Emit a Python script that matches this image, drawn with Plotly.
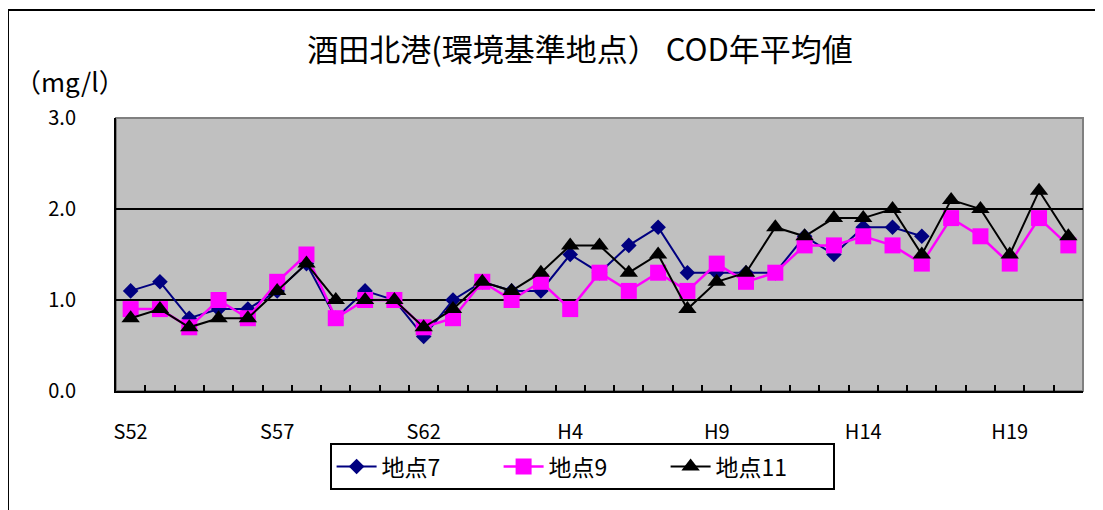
import plotly.graph_objects as go

# 年度 (昭和52年〜平成21年)
years = ["S52", "S53", "S54", "S55", "S56", "S57", "S58", "S59", "S60", "S61", "S62",
         "S63", "H1", "H2", "H3", "H4", "H5", "H6", "H7", "H8", "H9", "H10",
         "H11", "H12", "H13", "H14", "H15", "H16", "H17", "H18", "H19", "H20", "H21"]
shown_labels = ["S52", "S57", "S62", "H4", "H9", "H14", "H19"]

# COD 年平均値 (mg/l)
st7 = [1.1, 1.2, 0.8, 0.9, 0.9, 1.1, 1.4, 0.8, 1.1, 1.0, 0.6,
       1.0, 1.2, 1.1, 1.1, 1.5, 1.3, 1.6, 1.8, 1.3, 1.3, 1.3,
       1.3, 1.7, 1.5, 1.8, 1.8, 1.7]
st9 = [0.9, 0.9, 0.7, 1.0, 0.8, 1.2, 1.5, 0.8, 1.0, 1.0, 0.7,
       0.8, 1.2, 1.0, 1.2, 0.9, 1.3, 1.1, 1.3, 1.1, 1.4, 1.2,
       1.3, 1.6, 1.6, 1.7, 1.6, 1.4, 1.9, 1.7, 1.4, 1.9, 1.6]
st11 = [0.8, 0.9, 0.7, 0.8, 0.8, 1.1, 1.4, 1.0, 1.0, 1.0, 0.7,
        0.9, 1.2, 1.1, 1.3, 1.6, 1.6, 1.3, 1.5, 0.9, 1.2, 1.3,
        1.8, 1.7, 1.9, 1.9, 2.0, 1.5, 2.1, 2.0, 1.5, 2.2, 1.7]

FONT = "Noto Sans CJK JP"

fig = go.Figure()

fig.add_trace(go.Scatter(
    x=years[:len(st7)], y=st7, name="地点7", mode="lines+markers",
    line=dict(color="#000080", width=2),
    marker=dict(symbol="diamond", size=12, color="#000080")
))
fig.add_trace(go.Scatter(
    x=years, y=st9, name="地点9", mode="lines+markers",
    line=dict(color="#FF00FF", width=2.5),
    marker=dict(symbol="square", size=16, color="#FF00FF")
))
fig.add_trace(go.Scatter(
    x=years, y=st11, name="地点11", mode="lines+markers",
    line=dict(color="#000000", width=2),
    marker=dict(symbol="triangle-up", size=16, color="#000000")
))

# plot area frame (gray top/right) and outer chart border
fig.add_shape(type="rect", xref="paper", yref="paper", x0=0, x1=1, y0=0, y1=1,
              line=dict(color="#808080", width=2), layer="below")
fig.add_shape(type="rect", xref="paper", yref="paper",
              x0=-0.1117, x1=1.05, y0=-0.5, y1=1.3956,
              line=dict(color="#000000", width=2))

fig.add_annotation(text="（mg/l）", xref="paper", yref="paper",
                   x=-0.106, y=1.139, xanchor="left", yanchor="middle",
                   showarrow=False, font=dict(family=FONT, size=26, color="#000"))

fig.update_layout(
    width=1103, height=510,
    margin=dict(l=108, r=28, t=110, b=127, autoexpand=False),
    paper_bgcolor="white",
    plot_bgcolor="#C0C0C0",
    font=dict(family=FONT, color="#000"),
    title=dict(text="酒田北港(環境基準地点） COD年平均値",
               x=572 / 1103, y=1 - 42 / 510, xanchor="center", yanchor="middle",
               font=dict(family=FONT, size=31, color="#000")),
    showlegend=True,
    legend=dict(orientation="h", x=0.482, y=-0.277, xanchor="center", yanchor="middle",
                bgcolor="white", bordercolor="#000", borderwidth=2,
                font=dict(family=FONT, size=23), entrywidth=112, itemwidth=40),
    xaxis=dict(
        type="category", categoryorder="array", categoryarray=years,
        tickmode="array", tickvals=years,
        ticktext=[y if y in shown_labels else "" for y in years],
        tickson="boundaries", ticks="inside", ticklen=6, tickwidth=2, tickcolor="#000",
        showgrid=False, showline=True, linecolor="#000", linewidth=2,
        range=[-0.5, len(years) - 0.5], tickangle=0, automargin=False,
        tickfont=dict(family=FONT, size=20), ticklabelstandoff=22,
        zeroline=False,
    ),
    yaxis=dict(
        range=[0, 3], tickvals=[0, 1, 2, 3], ticktext=["0.0", "1.0", "2.0", "3.0"],
        showgrid=True, gridcolor="#000", gridwidth=2,
        showline=True, linecolor="#000", linewidth=2, automargin=False,
        ticks="", tickfont=dict(family=FONT, size=20), ticklabelstandoff=34,
        zeroline=False,
    ),
)

fig.write_html("out.html")
